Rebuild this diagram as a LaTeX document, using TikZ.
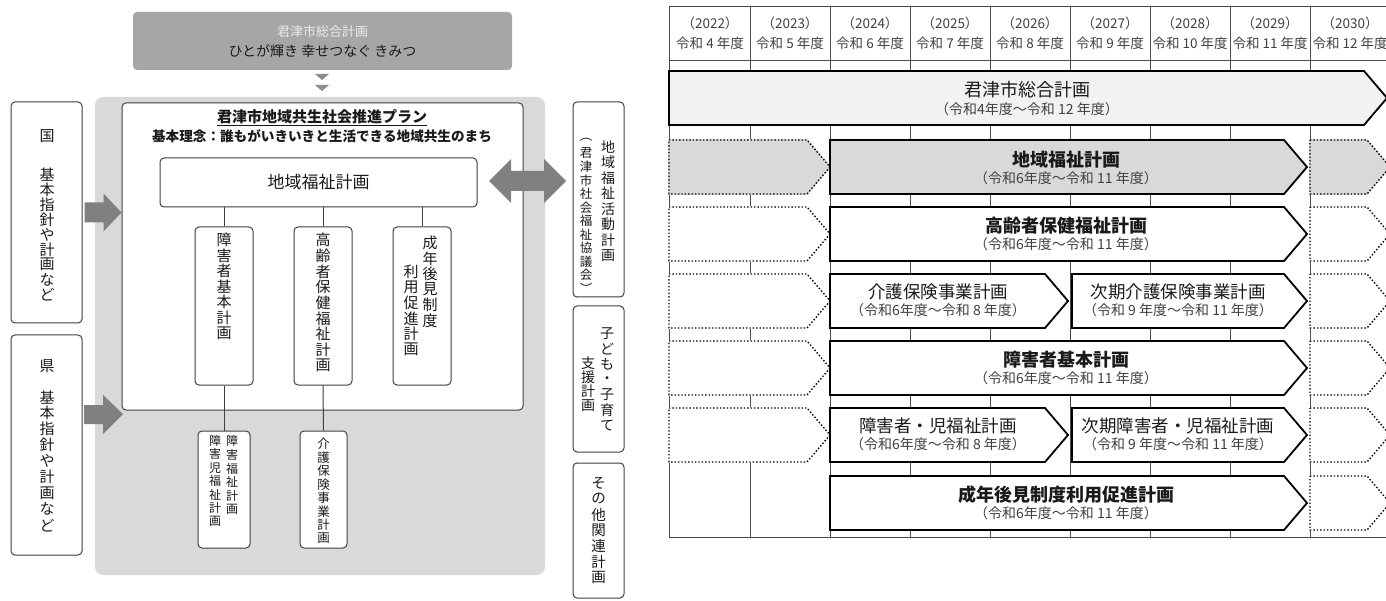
\documentclass[tikz,border=0pt]{standalone}
\usepackage{fontspec}
\setmainfont{Noto Sans CJK JP}
\usetikzlibrary{calc}
\definecolor{bggray}{HTML}{D9D9D9}
\definecolor{topgray}{HTML}{A6A6A6}
\definecolor{arrgray}{HTML}{808080}
\definecolor{edge}{HTML}{404040}
\definecolor{txt}{HTML}{1A1A1A}
\definecolor{rowgray}{HTML}{D9D9D9}
\definecolor{rowlight}{HTML}{F2F2F2}
\definecolor{subtxt}{HTML}{404040}
\newcommand\fsz[1]{\fontsize{#1pt}{#1pt}\selectfont}
\newdimen\vpitch
\def\vstloop#1{\ifx\relax#1\else\vbox to\vpitch{\vss\hbox to 1.1em{\hss#1\hss}\vss}\expandafter\vstloop\fi}
\newcommand\vst[2]{\vpitch=#1pt\relax\vbox{\offinterlineskip\vstloop#2\relax}}
\newcommand\chev[5]{\path[#1] (#2,#4) -- ({#3-23},#4) -- (#3,{(#4+#5)/2}) -- ({#3-23},#5) -- (#2,#5) -- cycle;}
\newcommand\pchev[5]{\chev{draw=#1,fill=#1,line width=1.6pt}{#2}{#3}{#4}{#5}\chev{prevbox}{#2}{#3}{#4}{#5}}
\tikzset{
 rbox/.style={draw=edge, line width=1pt, rounded corners=4pt, fill=white, inner sep=0pt},
 vtxt/.style={inner sep=0pt, anchor=north, text=txt},
 conn/.style={draw=edge, line width=1pt},
 blockarrow/.style={fill=arrgray, draw=none},
 gridline/.style={draw=black!70, line width=0.8pt},
 planbox/.style={draw=black, line width=1.8pt, line join=miter},
 prevbox/.style={draw=black, line width=1.4pt, dotted},
 ttl/.style={font=\fsz{17.5}, inner sep=0pt, text=txt},
 ttlb/.style={font=\fsz{18}\bfseries, inner sep=0pt, text=txt},
 subt/.style={font=\fsz{14}, text=subtxt, inner sep=0pt},
 hdr/.style={font=\fsz{13.5}, text=subtxt, inner sep=0pt},
}
\begin{document}
\begin{tikzpicture}[x=1pt,y=-1pt, every node/.style={inner sep=0pt, text=txt}]
\useasboundingbox (0,0) rectangle (1386,601);
\clip (0,0) rectangle (1386,601);
\fill[white] (0,0) rectangle (1386,601);

% ---------------- left diagram ----------------
\node[fill=topgray, rounded corners=4pt, minimum width=379pt, minimum height=58pt] (sogo) at (322.5,41) {};
\node[text=white!92!black, font=\fsz{13}] (sogoA) at (322.5,32) {君津市総合計画};
\node[font=\fsz{14}] (sogoB) at (322.5,51) {ひとが輝き 幸せつなぐ きみつ};
\fill[arrgray!90] (315,74) -- (329,74) -- (322,80) -- cycle;
\fill[arrgray!90] (315,85) -- (329,85) -- (322,91) -- cycle;

\node[fill=bggray, rounded corners=8pt, minimum width=450pt, minimum height=478pt] (bg) at (320,336) {};
\node[rbox, minimum width=401pt, minimum height=307pt] (plan) at (322.5,256.5) {};
\node[font=\fsz{15}\bfseries] (planT) at (322,118) {\underline{君津市地域共生社会推進プラン}};
\node[font=\fsz{13.6}\bfseries] (planS) at (322,136) {基本理念：誰もがいきいきと生活できる地域共生のまち};
\node[rbox, minimum width=317pt, minimum height=49pt, font=\fsz{17}] (fuk) at (318.5,182.5) {地域福祉計画};

\node[rbox, minimum width=58pt, minimum height=158pt] (shogai) at (224,306) {};
\node[rbox, minimum width=58pt, minimum height=158pt] (koreisha) at (323,306) {};
\node[rbox, minimum width=58pt, minimum height=158pt] (seinen) at (422,306) {};
\node[rbox, minimum width=52pt, minimum height=117pt] (shogaifuku) at (224,489.5) {};
\node[rbox, minimum width=47pt, minimum height=117pt] (kaigo) at (323.5,489.5) {};

\draw[conn] (shogai.north) -- (shogai.north |- fuk.south);
\draw[conn] (koreisha.north) -- (koreisha.north |- fuk.south);
\draw[conn] (seinen.north) -- (seinen.north |- fuk.south);
\draw[conn] (shogai.south) -- (shogaifuku.north);
\draw[conn] (koreisha.south) -- (kaigo.north);

\node[vtxt, font=\fsz{15}] (shogaiT) at (224,232) {\vst{15.5}{障害者基本計画}};
\node[vtxt, font=\fsz{15}] (koreishaT) at (323,232) {\vst{15.7}{高齢者保健福祉計画}};
\node[vtxt, font=\fsz{15}] (seinenR) at (430,235) {\vst{15.5}{成年後見制度}};
\node[vtxt, font=\fsz{15}] (seinenL) at (411,264) {\vst{15.5}{利用促進計画}};
\node[vtxt, font=\fsz{12}] (shfR) at (232,434) {\vst{13.7}{障害福祉計画}};
\node[vtxt, font=\fsz{12}] (shfL) at (215,434) {\vst{13.4}{障害児福祉計画}};
\node[vtxt, font=\fsz{12.5}] (kaigoT) at (323.5,437) {\vst{13.5}{介護保険事業計画}};

\node[rbox, minimum width=71pt, minimum height=221pt] (kuni) at (46.5,212.5) {};
\node[rbox, minimum width=71pt, minimum height=220pt] (ken) at (46.5,445) {};
\node[font=\fsz{15}] (kuniA) at (47,136) {国};
\node[vtxt, font=\fsz{15}] (kuniB) at (47,167) {\vst{15}{基本指針や計画など}};
\node[font=\fsz{15}] (kenA) at (47,366) {県};
\node[vtxt, font=\fsz{15}] (kenB) at (47,389) {\vst{16}{基本指針や計画など}};

\node[rbox, minimum width=51pt, minimum height=195pt] (katsudo) at (598.5,199.5) {};
\node[rbox, minimum width=51pt, minimum height=146pt] (kodomo) at (598.5,379) {};
\node[rbox, minimum width=51pt, minimum height=135pt] (sonota) at (598.5,530.5) {};
\node[vtxt, font=\fsz{14}] (katsudoR) at (608,139) {\vst{15.5}{地域福祉活動計画}};
\node[vtxt, font=\fsz{12.5}] (katsudoL) at (586,133) {\vst{13.5}{︵君津市社会福祉協議会︶}};
\node[vtxt, font=\fsz{14}] (kodomoR) at (607,326) {\vst{15.3}{子ども・子育て}};
\node[vtxt, font=\fsz{14}] (kodomoL) at (588,356) {\vst{14}{支援計画}};
\node[vtxt, font=\fsz{14.5}] (sonotaT) at (598.5,475) {\vst{15.8}{その他関連計画}};

% block arrows
\fill[blockarrow] ($(kuni.east)+(2,-10)$) -- ($(kuni.east)+(21,-10)$) -- ($(kuni.east)+(21,-19)$)
  -- (plan.west |- kuni.east) -- ($(kuni.east)+(21,19)$) -- ($(kuni.east)+(21,10)$) -- ($(kuni.east)+(2,10)$) -- cycle;
\fill[blockarrow] (84,405) -- (103,405) -- (103,395) -- (123,414) -- (103,434) -- (103,424) -- (84,424) -- cycle;
\fill[blockarrow] (489,181) -- (511,159) -- (511,171) -- (544,171) -- (544,159) -- (566,181)
  -- (544,203) -- (544,191) -- (511,191) -- (511,203) -- cycle;

% ---------------- right timeline ----------------
\foreach \x in {669,750,830,910,990,1070,1150,1230,1310,1390}
  \draw[gridline] (\x,6) -- (\x,537);
\draw[gridline] (669,6) -- (1400,6);
\draw[gridline] (669,60) -- (1400,60);
\draw[gridline] (669,537) -- (1400,537);
\foreach \i in {0,...,8} {
  \pgfmathtruncatemacro\yr{2022+\i}
  \pgfmathtruncatemacro\rw{4+\i}
  \node[hdr] (yr\i) at (710+80*\i,23) {（\yr）};
  \node[hdr] (rw\i) at (710+80*\i,43) {令和 \rw{} 年度};
}

% row 1
\chev{planbox,fill=rowlight}{669}{1387}{71}{125}
\node[font=\fsz{18}] (r1t) at (1027,90) {君津市総合計画};
\node[subt] (r1s) at (1027,109) {（令和4年度～令和 12 年度）};
% row 2
\pchev{rowgray}{669}{830}{140}{194}
\chev{planbox,fill=rowgray}{830}{1307}{140}{194}
\pchev{rowgray}{1310}{1390}{140}{194}
\node[ttlb] (r2t) at (1066,160) {地域福祉計画};
\node[subt] (r2s) at (1066,178) {（令和6年度～令和 11 年度）};
% row 3
\pchev{white}{669}{830}{207}{261}
\chev{planbox,fill=white}{830}{1307}{207}{261}
\pchev{white}{1310}{1390}{207}{261}
\node[ttlb] (r3t) at (1066,226) {高齢者保健福祉計画};
\node[subt] (r3s) at (1066,244) {（令和6年度～令和 11 年度）};
% row 4
\pchev{white}{669}{830}{274}{328}
\chev{planbox,fill=white}{830}{1068}{274}{328}
\chev{planbox,fill=white}{1072}{1307}{274}{328}
\pchev{white}{1310}{1390}{274}{328}
\node[ttl] (r4at) at (938,292) {介護保険事業計画};
\node[subt] (r4as) at (938,310) {（令和6年度～令和 8 年度）};
\node[ttl] (r4bt) at (1178,292) {次期介護保険事業計画};
\node[subt] (r4bs) at (1178,310) {（令和 9 年度～令和 11 年度）};
% row 5
\pchev{white}{669}{830}{341}{395}
\chev{planbox,fill=white}{830}{1307}{341}{395}
\pchev{white}{1310}{1390}{341}{395}
\node[ttlb] (r5t) at (1066,360) {障害者基本計画};
\node[subt] (r5s) at (1066,378) {（令和6年度～令和 11 年度）};
% row 6
\pchev{white}{669}{830}{408}{462}
\chev{planbox,fill=white}{830}{1068}{408}{462}
\chev{planbox,fill=white}{1072}{1307}{408}{462}
\pchev{white}{1310}{1390}{408}{462}
\node[ttl] (r6at) at (938,426) {障害者・児福祉計画};
\node[subt] (r6as) at (938,444) {（令和6年度～令和 8 年度）};
\node[ttl] (r6bt) at (1178,426) {次期障害者・児福祉計画};
\node[subt] (r6bs) at (1178,444) {（令和 9 年度～令和 11 年度）};
% row 7
\chev{planbox,fill=white}{830}{1307}{476}{530}
\pchev{white}{1310}{1390}{476}{530}
\node[ttlb] (r7t) at (1066,495) {成年後見制度利用促進計画};
\node[subt] (r7s) at (1066,513) {（令和6年度～令和 11 年度）};
\end{tikzpicture}
\end{document}
